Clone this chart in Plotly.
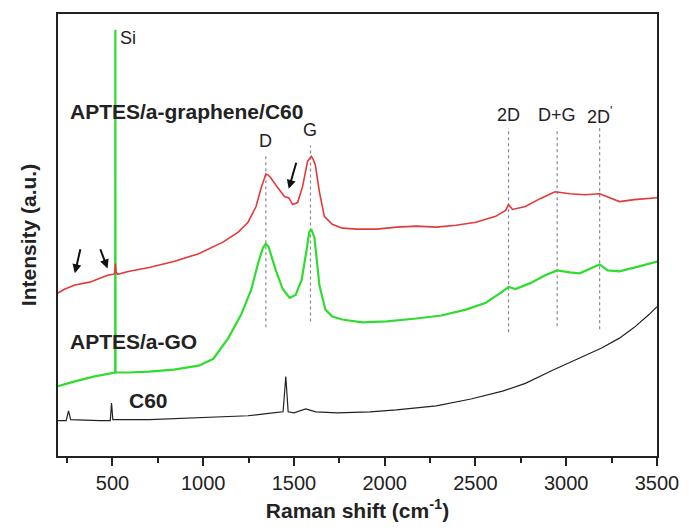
import plotly.graph_objects as go

# ---- data (Raman shift in cm^-1, intensity in arbitrary units) ----
red_x = [200, 238, 293, 375, 473, 505, 512, 516, 520, 528, 593, 702, 838, 975, 1111, 1193, 1247, 1291, 1318,
         1335, 1345, 1358, 1373, 1411, 1449, 1471, 1493, 1520, 1547, 1575, 1588, 1596, 1606, 1618, 1640, 1667,
         1711, 1766, 1847, 1956, 2065, 2175, 2284, 2393, 2502, 2611, 2666, 2682, 2704, 2775, 2856, 2938,
         3020, 3102, 3184, 3238, 3293, 3375, 3500]
red_y = [166, 170, 174, 177, 184, 185, 186, 196, 187, 185, 188, 192, 198, 206, 218, 228, 238, 254, 272,
         283, 287, 286, 283, 273, 264, 263, 256, 258, 274, 300, 304, 305, 302, 296, 269, 244,
         236, 232, 231, 231, 233, 234, 233, 235, 238, 244, 250, 256, 251, 254, 262, 269,
         267, 266, 267, 263, 259, 261, 263]

green_x = [200, 293, 402, 500, 510, 515, 516, 517, 522, 528, 593, 702, 838, 975, 1056, 1138, 1209, 1264, 1302,
           1329, 1345, 1360, 1375, 1400, 1438, 1476, 1509, 1542, 1569, 1584, 1595, 1613, 1640, 1673, 1711,
           1766, 1875, 2011, 2175, 2311, 2447, 2557, 2638, 2682, 2720, 2802, 2884, 2950, 3020, 3075, 3146,
           3184, 3228, 3293, 3402, 3500]
green_y = [71, 76, 81, 84, 85, 85, 434, 85, 85, 85, 85, 86, 88, 92, 99, 120, 144, 169, 196,
           212, 216, 213, 204, 189, 170, 161, 164, 179, 209, 228, 231, 222, 174, 149, 142,
           139, 136, 137, 140, 143, 149, 156, 166, 172, 170, 176, 184, 189, 187, 186, 192,
           195, 189, 188, 193, 198]

black_x = [200, 245, 258, 270, 429, 488, 495, 502, 702, 975, 1247, 1384, 1440, 1455, 1468, 1500, 1565,
           1620, 1738, 1918, 2065, 2284, 2475, 2649, 2775, 2922, 3048, 3195, 3293, 3375, 3456, 3500]
black_y = [36, 36, 46, 37, 36, 36, 54, 37, 37, 39, 41, 44, 45, 81, 45, 44, 48,
           45, 44, 45, 47, 51, 58, 66, 74, 87, 98, 110, 120, 131, 144, 152]

# dotted marker lines for the bands
band_labels = ["D", "G", "2D", "D+G", "2D<sup>'</sup>"]
band_pos = [1345, 1591, 2682, 2950, 3184]
band_top = [306, 316, 334, 334, 334]
band_bottom = [131, 137, 126, 132, 129]
band_label_y = [321, 332, 347, 347, 347]

# sample names
sample_names = ["APTES/a-graphene/C60", "APTES/a-GO", "C60"]
sample_x = [255, 255, 582]
sample_y = [351, 117, 57]

x_ticks = [500, 1000, 1500, 2000, 2500, 3000, 3500]
x_minor = [250, 750, 1250, 1750, 2250, 2750, 3250]

FONT = "Arial, Liberation Sans, sans-serif"

fig = go.Figure()

for p, t, b in zip(band_pos, band_top, band_bottom):
    fig.add_trace(go.Scatter(x=[p, p], y=[b, t], mode="lines",
                             line=dict(color="#8a8a8a", width=1.2, dash="dot"),
                             hoverinfo="skip", showlegend=False))

fig.add_trace(go.Scatter(x=black_x, y=black_y, mode="lines",
                         line=dict(color="#222222", width=1.2), showlegend=False))
fig.add_trace(go.Scatter(x=green_x, y=green_y, mode="lines",
                         line=dict(color="#2fdc2f", width=2.2), showlegend=False))
fig.add_trace(go.Scatter(x=red_x, y=red_y, mode="lines",
                         line=dict(color="#e23a3a", width=1.6), showlegend=False))

annotations = []
for lab, p, ly in zip(band_labels, band_pos, band_label_y):
    annotations.append(dict(x=p, y=ly, text=lab, showarrow=False, xref="x", yref="y",
                            font=dict(family=FONT, size=18, color="#222222")))
annotations.append(dict(x=520, y=426, text="Si", showarrow=False, xanchor="left", xref="x", yref="y",
                        xshift=2, font=dict(family=FONT, size=18, color="#222222")))
for name, sx, sy in zip(sample_names, sample_x, sample_y):
    annotations.append(dict(x=sx, y=sy, text="<b>" + name + "</b>", showarrow=False, xanchor="left",
                            xref="x", yref="y", font=dict(family=FONT, size=21, color="#222222")))

# arrows: (head_x, head_y, tail_x, tail_y)
arrows = [(293, 186, 325, 212), (473, 191, 430, 212), (1471, 272, 1515, 300)]
for hx, hy, tx, ty in arrows:
    annotations.append(dict(x=hx, y=hy, ax=tx, ay=ty, xref="x", yref="y", axref="x", ayref="y",
                            text="", showarrow=True, arrowhead=2, arrowsize=0.9, arrowwidth=2,
                            arrowcolor="#111111"))

fig.update_layout(
    width=691, height=531,
    margin=dict(l=58, r=28, t=14, b=67),
    paper_bgcolor="white", plot_bgcolor="white",
    font=dict(family=FONT, color="#222222"),
    annotations=annotations,
    showlegend=False,
)

fig.update_xaxes(
    range=[200, 3500], tickvals=x_ticks, ticktext=[str(v) for v in x_ticks],
    ticks="outside", ticklen=8, tickwidth=2, tickcolor="#222222",
    minor=dict(tickvals=x_minor, ticks="outside", ticklen=5, tickwidth=2, tickcolor="#222222"),
    showline=True, linewidth=2, linecolor="#222222", mirror=True,
    showgrid=False, zeroline=False,
    tickfont=dict(family=FONT, size=20, color="#222222"),
    title=dict(text="<b>Raman shift (cm<sup>-1</sup>)</b>", font=dict(family=FONT, size=21, color="#222222"),
               standoff=10),
)
fig.update_yaxes(
    range=[0, 450], showticklabels=False, ticks="",
    showline=True, linewidth=2, linecolor="#222222", mirror=True,
    showgrid=False, zeroline=False,
    title=dict(text="<b>Intensity (a.u.)</b>", font=dict(family=FONT, size=21, color="#222222"),
               standoff=14),
)

fig.write_html("out.html")
